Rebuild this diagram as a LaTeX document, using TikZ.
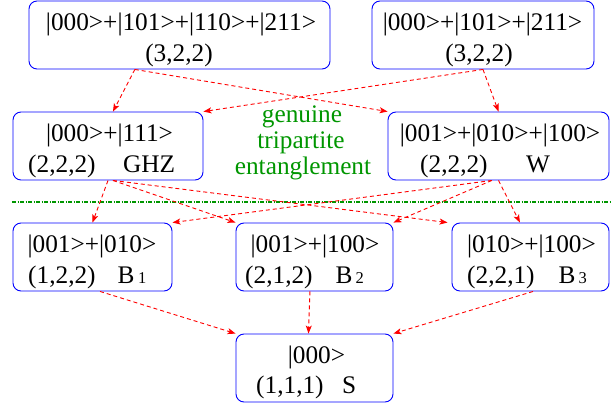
\documentclass[tikz,border=0pt]{standalone}
\usepackage{fontspec}
\setmainfont{Liberation Serif}
\usetikzlibrary{arrows.meta,calc}
\definecolor{boxblue}{RGB}{0,0,255}
\definecolor{fgreen}{RGB}{0,150,0}
\begin{document}
\begin{tikzpicture}[x=1pt,y=-1pt,
  box/.style={draw=boxblue, line width=0.9pt, rounded corners=8pt, inner sep=0pt, rectangle, minimum height=68pt},
  lbl/.style={anchor=base west, inner sep=0pt, font=\fontsize{25.3}{30}\selectfont},
  lblc/.style={anchor=base, inner sep=0pt, font=\fontsize{25.3}{30}\selectfont},
  gtxt/.style={anchor=base, inner sep=0pt, text=fgreen, font=\fontsize{25.3}{30}\selectfont},
  arr/.style={draw=red, line width=0.9pt, dash pattern=on 4pt off 3pt, -{Stealth[length=8pt,width=6pt,inset=2pt]}},
  sepline/.style={draw=fgreen, line width=1.6pt, dash pattern=on 4pt off 1.5pt on 1pt off 1.5pt}]
\newcommand{\smd}[1]{{\fontsize{16.5}{20}\selectfont #1}}
\useasboundingbox (0,0) rectangle (616,404);
% boxes
\node[box, minimum width=301pt] (A) at (179.5,35) {};
\node[box, minimum width=222pt] (B) at (483,35) {};
\node[box, minimum width=190pt] (GHZ) at (108,146) {};
\node[box, minimum width=221pt] (W) at (498.5,146) {};
\node[box, minimum width=159pt] (B1) at (92.5,257) {};
\node[box, minimum width=157pt] (B2) at (314.5,257) {};
\node[box, minimum width=157pt] (B3) at (530.5,257) {};
\node[box, minimum width=157pt] (S) at (314.5,368) {};
% texts
\node[lblc] (A1) at (181,30.5) {|000>+|101>+|110>+|211>};
\node[lblc] (A2) at (179,61.5) {(3,2,2)};
\node[lblc] (Bt1) at (482.5,30.5) {|000>+|101>+|211>};
\node[lblc] (Bt2) at (479,61.5) {(3,2,2)};
\node[lblc] (G1) at (109.5,141.5) {|000>+|111>};
\node[lbl] (G2) at (28,172.5) {(2,2,2)\hspace{27.5pt}GHZ};
\node[lblc] (W1) at (500,141.5) {|001>+|010>+|100>};
\node[lbl] (W2) at (420,172.5) {(2,2,2)\hspace{38.5pt}W};
\node[lblc] (B1a) at (92,252.5) {|001>+|010>};
\node[lbl] (B1b) at (28,283.5) {(1,2,2)\hspace{22pt}B\hspace{3.5pt}\smd{1}};
\node[lblc] (B2a) at (315,252.5) {|001>+|100>};
\node[lbl] (B2b) at (245,283.5) {(2,1,2)\hspace{23pt}B\hspace{3pt}\smd{2}};
\node[lblc] (B3a) at (531.5,252.5) {|010>+|100>};
\node[lbl] (B3b) at (467,283.5) {(2,2,1)\hspace{24pt}B\hspace{3pt}\smd{3}};
\node[lblc] (S1) at (316.5,363.5) {|000>};
\node[lbl] (S2) at (256,393.5) {(1,1,1)\hspace{18.5pt}S};
% green text
\node[gtxt] (g1) at (302,122.5) {genuine};
\node[gtxt] (g2) at (301,148.5) {tripartite};
\node[gtxt] (g3) at (303,174) {entanglement};
% separator
\coordinate (sepL) at (12,202);
\coordinate (sepR) at (610,202);
\draw[sepline] (sepL) -- (sepR);
% arrows
\draw[arr] ($(A.south west)!0.352!(A.south east)$) -- ($(GHZ.north west)!0.526!(GHZ.north east)$);
\draw[arr] ($(A.south west)!0.352!(A.south east)$) -- (W.north west);
\draw[arr] (B.south) -- (GHZ.north east);
\draw[arr] (B.south) -- (W.north);
\draw[arr] (GHZ.south) -- (B1.north);
\draw[arr] ($(GHZ.south west)!0.526!(GHZ.south east)$) -- (B2.north west);
\draw[arr] ($(GHZ.south west)!0.526!(GHZ.south east)$) -- ($(B3.north west)+(-4,0)$);
\draw[arr] ($(W.south west)!0.47!(W.south east)$) -- (B1.north east);
\draw[arr] ($(W.south west)!0.47!(W.south east)$) -- (B2.north east);
\draw[arr] (W.south) -- ($(B3.north west)!0.433!(B3.north east)$);
\draw[arr] ($(B1.south west)!0.547!(B1.south east)$) -- (S.north west);
\draw[arr, line width=1pt] ($(B2.south west)!0.471!(B2.south east)$) -- ($(S.north west)!0.462!(S.north east)$);
\draw[arr] ($(B3.south west)!0.516!(B3.south east)$) -- (S.north east);
\end{tikzpicture}
\end{document}
